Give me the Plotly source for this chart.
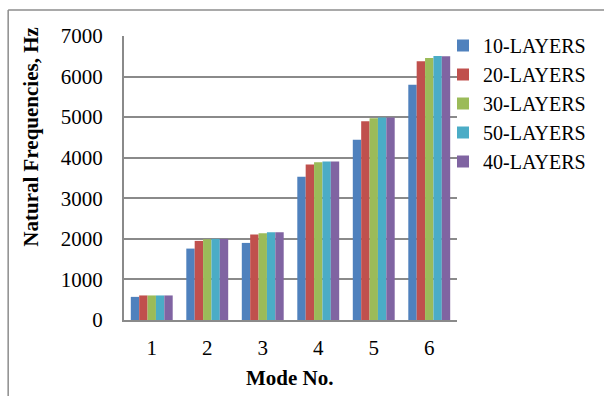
import plotly.graph_objects as go

modes = ["1", "2", "3", "4", "5", "6"]
series_names = ["10-LAYERS", "20-LAYERS", "30-LAYERS", "50-LAYERS", "40-LAYERS"]
layers_10 = [570, 1760, 1900, 3530, 4440, 5800]
layers_20 = [605, 1950, 2110, 3830, 4900, 6380]
layers_30 = [605, 1990, 2140, 3890, 4970, 6460]
layers_50 = [605, 2000, 2160, 3905, 4990, 6510]
layers_40 = [605, 2000, 2160, 3905, 4990, 6500]
y_ticks = [0, 1000, 2000, 3000, 4000, 5000, 6000, 7000]

colors = ["#4F81BD", "#C0504D", "#9BBB59", "#4BACC6", "#8064A2"]
values = [layers_10, layers_20, layers_30, layers_50, layers_40]

FONT = "Liberation Serif, Times New Roman, serif"
GRID = "#8a8a8a"

fig = go.Figure()
for name, vals, col in zip(series_names, values, colors):
    fig.add_trace(go.Bar(
        x=modes, y=vals, name=name,
        marker=dict(color=col, line=dict(width=0)),
    ))

W, H = 604, 396
L, R, T, B = 123.5, 147, 36, 76
pw, ph = W - L - R, H - T - B

# outer chart frame: only its top and left edges fall inside the page
frame_left = (7.5 - L) / pw
frame_top = (H - B - 10) / ph

fig.update_layout(
    width=W, height=H,
    margin=dict(l=L, r=R, t=T, b=B, pad=0, autoexpand=False),
    paper_bgcolor="white", plot_bgcolor="white",
    barmode="group", bargap=0.245, bargroupgap=0,
    font=dict(family=FONT, size=21, color="black"),
    showlegend=True,
    legend=dict(
        x=(443 - L) / pw, y=1 + 10 / ph, xanchor="left", yanchor="top",
        font=dict(family=FONT, size=20, color="black"),
        bgcolor="rgba(0,0,0,0)", borderwidth=0,
        itemwidth=30, tracegroupgap=0,
    ),
    xaxis=dict(
        type="category", showgrid=False,
        showline=True, linecolor=GRID, linewidth=2,
        ticks="outside", ticklen=8, tickcolor="rgba(0,0,0,0)",
        tickfont=dict(family=FONT, size=21),
    ),
    yaxis=dict(
        range=[0, 7000], tickvals=y_ticks,
        showgrid=True, gridcolor=GRID, gridwidth=1.6,
        showline=True, linecolor=GRID, linewidth=2,
        zeroline=False,
        ticks="outside", ticklen=15, tickcolor="rgba(0,0,0,0)",
        tickfont=dict(family=FONT, size=21),
    ),
    annotations=[
        dict(text="<b>Natural Frequencies, Hz</b>", textangle=-90,
             xref="paper", yref="paper",
             x=(30 - L) / pw, y=(H - B - 137) / ph,
             xanchor="center", yanchor="middle", showarrow=False,
             font=dict(family=FONT, size=21, color="black")),
        dict(text="<b>Mode No.</b>",
             xref="paper", yref="paper",
             x=(290 - L) / pw, y=-(378 - (H - B)) / ph,
             xanchor="center", yanchor="middle", showarrow=False,
             font=dict(family=FONT, size=21, color="black")),
    ],
    shapes=[
        dict(type="line", xref="paper", yref="paper",
             x0=frame_left, x1=(W - L) / pw + 0.2, y0=frame_top, y1=frame_top,
             line=dict(color="#8c8c8c", width=1.5), layer="below"),
        dict(type="line", xref="paper", yref="paper",
             x0=frame_left, x1=frame_left, y0=frame_top, y1=-B / ph - 0.2,
             line=dict(color="#8c8c8c", width=1.5), layer="below"),
    ],
)

fig.write_html("out.html")
